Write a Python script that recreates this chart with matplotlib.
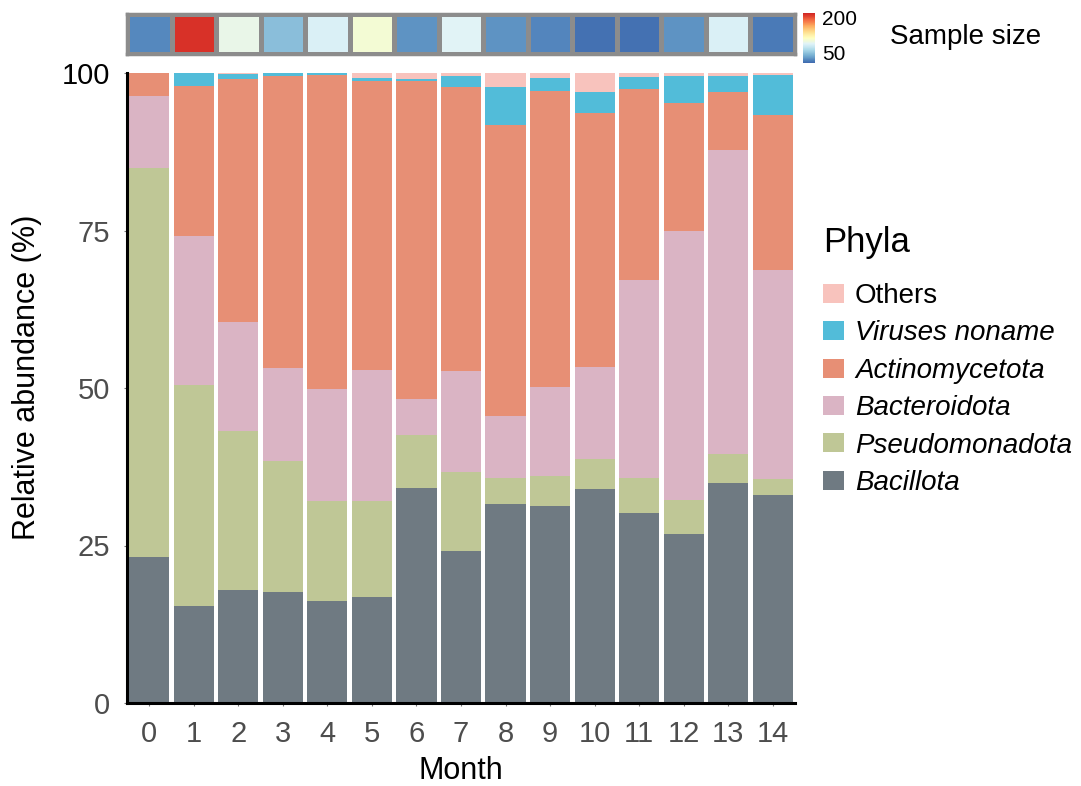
import numpy as np
import matplotlib
matplotlib.use("Agg")
import matplotlib.pyplot as plt
from matplotlib.colors import LinearSegmentedColormap

plt.rcParams['font.family'] = ['Liberation Sans', 'DejaVu Sans']

# Data
months = list(range(15))
sample_size = [22, 215, 95, 48, 86, 104, 27, 89, 27, 20, 12, 12, 27, 86, 15]

bacillota = [23.1, 15.4, 18.0, 17.6, 16.2, 16.8, 34.2, 24.2, 31.6, 31.3, 34.0, 30.1, 26.9, 35.0, 33.0]
pseudomonadota = [61.9, 35.0, 25.2, 20.8, 15.8, 15.3, 8.3, 12.5, 4.1, 4.7, 4.7, 5.6, 5.4, 4.6, 2.5]
bacteroidota = [11.4, 23.8, 17.2, 14.8, 17.8, 20.7, 5.8, 16.0, 9.9, 14.1, 14.6, 31.5, 42.6, 48.1, 33.2]
actinomycetota = [3.6, 23.8, 38.6, 46.4, 49.9, 46.0, 50.5, 45.0, 46.2, 47.0, 40.3, 30.3, 20.3, 9.3, 24.6]
viruses = [0.0, 2.0, 0.9, 0.4, 0.3, 0.4, 0.2, 1.8, 6.0, 2.1, 3.4, 1.9, 4.3, 2.5, 6.4]
others = [0.0, 0.0, 0.1, 0.0, 0.0, 0.8, 1.0, 0.5, 2.2, 0.8, 3.0, 0.6, 0.5, 0.5, 0.3]

phyla = ["Bacillota", "Pseudomonadota", "Bacteroidota", "Actinomycetota", "Viruses noname", "Others"]
series = [bacillota, pseudomonadota, bacteroidota, actinomycetota, viruses, others]
colors = ["#6f7a82", "#bfc796", "#dab4c4", "#e78f75", "#52bcd9", "#f8c3bd"]

W, H = 1081, 786
fig = plt.figure(figsize=(W / 100, H / 100), dpi=100)

# main stacked bar axes
ax = fig.add_axes([127 / W, 1 - 703 / H, 668 / W, 630 / H])
bottom = np.zeros(len(months))
bars = []
for name, vals, col in zip(phyla, series, colors):
    b = ax.bar(months, vals, bottom=bottom, width=0.9, color=col, label=name, linewidth=0)
    bars.append(b)
    bottom += np.array(vals)

ax.set_xlim(-0.5, 14.5)
ax.set_ylim(0, 100)
ax.set_yticks([0, 25, 50, 75, 100])
ax.set_xticks(months)
for s in ['top', 'right']:
    ax.spines[s].set_visible(False)
for s in ['left', 'bottom']:
    ax.spines[s].set_linewidth(2.2)
    ax.spines[s].set_color('black')
ax.tick_params(axis='both', length=2, color='#777777', labelsize=21, labelcolor='#4d4d4d')
ax.tick_params(axis='x', pad=10)
ax.tick_params(axis='y', pad=10)
ax.get_yticklabels()[-1].set_color('black')

ax.set_ylabel("Relative abundance (%)", fontsize=22)
ax.yaxis.set_label_coords(-0.127, 0.517)
ax.set_xlabel("Month", fontsize=22)
ax.xaxis.set_label_coords(0.5, -0.084)

# sample size strip
base = plt.get_cmap('RdYlBu_r')
cmap = LinearSegmentedColormap.from_list('trunc', base(np.linspace(0.08, 0.92, 256)))
axs = fig.add_axes([127 / W, 1 - 54 / H, 668 / W, 40 / H])
mesh = axs.pcolormesh(np.arange(-0.5, 15, 1), [0, 1], np.array([sample_size]),
                      cmap=cmap, vmin=7, vmax=221, edgecolors='#8c8c8c', linewidth=2.5)
axs.set_xlim(-0.5, 14.5)
axs.set_ylim(0, 1)
axs.set_xticks([])
axs.set_yticks([])
for s in axs.spines.values():
    s.set_color('#8c8c8c')
    s.set_linewidth(2.5)

cax = fig.add_axes([803 / W, 1 - 63 / H, 12 / W, 50 / H])
cb = fig.colorbar(mesh, cax=cax, ticks=[50, 200])
cb.outline.set_visible(False)
cax.tick_params(length=0, labelsize=15, pad=5)
fig.text(890 / W, 1 - 37 / H, "Sample size", fontsize=20, va='center', ha='left')

# legend
fig.text(823 / W, 1 - 252 / H, "Phyla", fontsize=25, va='baseline', ha='left')
leg = ax.legend(handles=bars[::-1], labels=phyla[::-1], loc='upper left',
                bbox_to_anchor=(823 / W, 1 - 283 / H), bbox_transform=fig.transFigure,
                frameon=False, fontsize=20, borderpad=0, borderaxespad=0,
                handlelength=0.75, handleheight=0.68, handletextpad=0.4,
                labelspacing=0.41)
for t in leg.get_texts()[1:]:
    t.set_fontstyle('italic')

fig.savefig("out.png", dpi=100)
